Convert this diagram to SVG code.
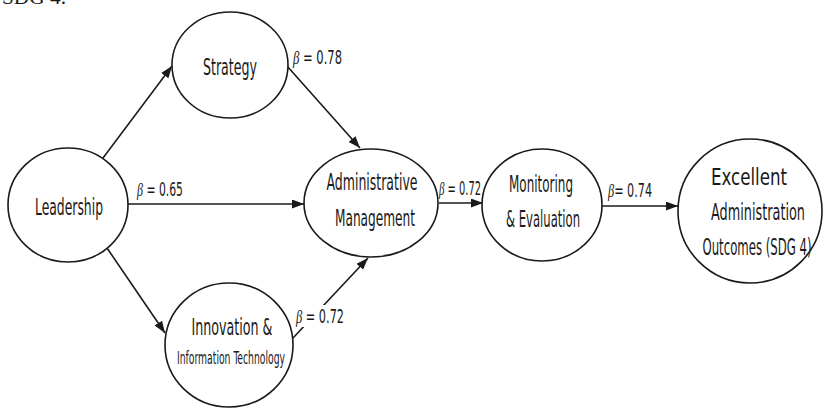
<svg xmlns="http://www.w3.org/2000/svg" width="823" height="408" viewBox="0 0 823 408">
<style>
.node{fill:#fff;stroke:#1a1a1a;stroke-width:1.6}
.lbl{font-family:"Liberation Sans Narrow","DejaVu Sans Condensed","Liberation Sans",sans-serif;font-size:23px;fill:#1a1a1a;text-anchor:middle}
.sm{font-size:18px}
.beta{font-family:"Liberation Sans Narrow","DejaVu Sans Condensed","Liberation Sans",sans-serif;font-size:19px;fill:#1a1a1a}
.b{font-family:"Liberation Serif",serif;font-style:italic}
.edge{stroke:#1a1a1a;stroke-width:1.6;fill:none;marker-end:url(#ah)}
</style>
<defs>
<marker id="ah" markerUnits="userSpaceOnUse" markerWidth="13" markerHeight="10" refX="12" refY="4.5" orient="auto">
<path d="M0,0 L12,4.5 L0,9 z" fill="#1a1a1a"/>
</marker>
</defs>
<rect width="823" height="408" fill="#fff"/>
<text x="2" y="4" font-family="Liberation Serif,serif" font-size="20" fill="#1a1a1a" textLength="64" lengthAdjust="spacingAndGlyphs">SDG 4.</text>
<g id="connectors">
<line class="edge" x1="103" y1="158" x2="172" y2="66"/>
<line class="edge" x1="107" y1="248" x2="165" y2="333"/>
<line class="edge" x1="128" y1="204" x2="304" y2="204"/>
<line class="edge" x1="287" y1="66" x2="360" y2="148"/>
<line class="edge" x1="293" y1="338" x2="368" y2="258"/>
<line class="edge" x1="439" y1="203" x2="483" y2="203"/>
<line class="edge" x1="602" y1="206" x2="678" y2="206"/>
</g>
<g id="n-strategy">
<ellipse class="node" cx="230" cy="65" rx="58" ry="53"/>
<text class="lbl" x="230" y="75" textLength="54" lengthAdjust="spacingAndGlyphs">Strategy</text>
</g>
<g id="n-leadership">
<ellipse class="node" cx="68" cy="205" rx="60" ry="57"/>
<text class="lbl" x="69" y="215" textLength="68" lengthAdjust="spacingAndGlyphs">Leadership</text>
</g>
<g id="n-admin">
<ellipse class="node" cx="371" cy="203" rx="67" ry="54"/>
<text class="lbl" x="372" y="190" textLength="91" lengthAdjust="spacingAndGlyphs">Administrative</text>
<text class="lbl" x="375" y="226" textLength="80" lengthAdjust="spacingAndGlyphs">Management</text>
</g>
<g id="n-monitoring">
<ellipse class="node" cx="542" cy="205" rx="60" ry="56"/>
<text class="lbl" x="541" y="192" textLength="64" lengthAdjust="spacingAndGlyphs">Monitoring</text>
<text class="lbl" x="543" y="227" textLength="74" lengthAdjust="spacingAndGlyphs">&amp; Evaluation</text>
</g>
<g id="n-outcomes">
<ellipse class="node" cx="750" cy="211" rx="72" ry="72"/>
<text class="lbl" x="749" y="185" textLength="76" lengthAdjust="spacingAndGlyphs">Excellent</text>
<text class="lbl" x="758" y="220" textLength="94" lengthAdjust="spacingAndGlyphs">Administration</text>
<text class="lbl" x="757" y="255" textLength="109" lengthAdjust="spacingAndGlyphs">Outcomes (SDG 4)</text>
</g>
<g id="n-innovation">
<ellipse class="node" cx="229" cy="345" rx="64" ry="62"/>
<text class="lbl" x="232" y="335" textLength="81" lengthAdjust="spacingAndGlyphs">Innovation &amp;</text>
<text class="lbl sm" x="231" y="364" textLength="108" lengthAdjust="spacingAndGlyphs">Information Technology</text>
</g>
<g id="edge-labels">
<text class="beta" x="293" y="64" textLength="49" lengthAdjust="spacingAndGlyphs"><tspan class="b">β</tspan> = 0.78</text>
<text class="beta" x="137" y="196" textLength="46" lengthAdjust="spacingAndGlyphs"><tspan class="b">β</tspan> = 0.65</text>
<text class="beta" x="439" y="195" textLength="42" lengthAdjust="spacingAndGlyphs"><tspan class="b">β</tspan> = 0.72</text>
<text class="beta" x="608" y="197" textLength="44" lengthAdjust="spacingAndGlyphs"><tspan class="b">β</tspan>= 0.74</text>
<rect x="298" y="305" width="46" height="22" fill="#fff"/>
<text class="beta" x="296" y="323" textLength="48" lengthAdjust="spacingAndGlyphs"><tspan class="b">β</tspan> = 0.72</text>
</g>
</svg>
